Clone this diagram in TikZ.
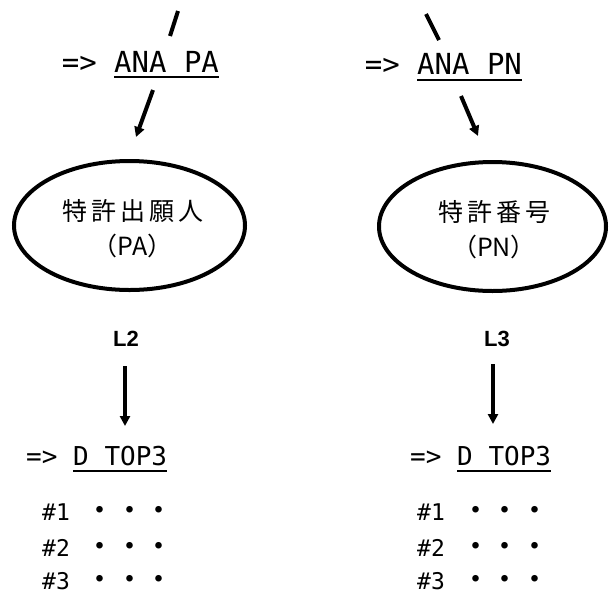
\documentclass[tikz,border=0pt]{standalone}
\usepackage{fontspec}
\usetikzlibrary{arrows.meta,shapes.geometric}
\newfontfamily\monofam{DejaVu Sans Mono}
\newfontfamily\jpfam{Noto Sans CJK JP}
\newfontfamily\lblfam{Liberation Sans}
% three spaced middle dots after a result number
\newcommand\threedots{{\jpfam\fontsize{31}{31}\selectfont\raisebox{-1.5pt}{%
  \makebox[29.5pt]{・}\makebox[29.5pt]{・}\makebox[29.5pt]{・}}}}
\begin{document}
\begin{tikzpicture}[x=1pt,y=-1pt,
  cmdbig/.style={inner sep=0pt, anchor=base west, font=\monofam\fontsize{29}{29}\selectfont},
  cmdmid/.style={inner sep=0pt, anchor=base west, font=\monofam\fontsize{26}{26}\selectfont},
  rowtext/.style={inner sep=0pt, anchor=base west, font=\monofam\fontsize{23}{23}\selectfont},
  uline/.style={line width=2.5pt},
  slash/.style={line width=4pt},
  diagarrow/.style={line width=4pt, -{Triangle[length=10pt,width=10pt]}},
  vertarrow/.style={line width=3.5pt, -{Triangle[length=10pt,width=10pt]}},
  oval/.style={draw, ellipse, line width=4pt, inner sep=0pt},
  ovaltext/.style={inner sep=0pt, align=center, font=\jpfam\fontsize{25}{35}\selectfont},
  setlabel/.style={inner sep=0pt, anchor=base, font=\lblfam\bfseries\fontsize{22}{22}\selectfont}]
\useasboundingbox (0,0) rectangle (610,592);

% ---------- left column: patent applicant ----------
\coordinate (ls1) at (178,11);
\coordinate (ls2) at (170,36);
\draw[slash] (ls1) -- (ls2);

\node[cmdbig] (anaPA) at (114,72) {ANA PA};
\node[cmdbig] (cmdPA) at (61.6,72) {=>};
\draw[uline] ([yshift=-5pt]anaPA.base west) -- ([yshift=-5pt]anaPA.base east);

\coordinate (la1) at (153,90);
\coordinate (la2) at (136,137);
\draw[diagarrow] (la1) -- (la2);

\node[oval, minimum width=231pt, minimum height=129pt] (ovalPA) at (129.5,225.5) {};
\node[ovaltext] (textPA) at (132.5,229)
  {特\kern4pt 許\kern4pt 出\kern4pt 願\kern4pt 人\\（PA）};

\node[setlabel] (L2) at (126,346) {L2};
\coordinate (lv1) at (125,366);
\coordinate (lv2) at (125,426);
\draw[vertarrow] (lv1) -- (lv2);

\node[cmdmid] (topL) at (73,465) {D TOP3};
\node[cmdmid] (cmdL) at (26,465) {=>};
\draw[uline] ([yshift=-6pt]topL.base west) -- ([yshift=-6pt]topL.base east);

\node[rowtext] (rL1) at (42,520) {\#1\hspace{15.5pt}\threedots};
\node[rowtext] (rL2) at (42,556) {\#2\hspace{15.5pt}\threedots};
\node[rowtext] (rL3) at (42,589) {\#3\hspace{15.5pt}\threedots};

% ---------- right column: patent number ----------
\coordinate (rs1) at (426,14);
\coordinate (rs2) at (439,40);
\draw[slash] (rs1) -- (rs2);

\node[cmdbig] (anaPN) at (417,74) {ANA PN};
\node[cmdbig] (cmdPN) at (364.6,74) {=>};
\draw[uline] ([yshift=-6pt]anaPN.base west) -- ([yshift=-6pt]anaPN.base east);

\coordinate (ra1) at (461,96);
\coordinate (ra2) at (478,136);
\draw[diagarrow] (ra1) -- (ra2);

\node[oval, minimum width=227pt, minimum height=129pt] (ovalPN) at (492.5,226.5) {};
\node[ovaltext] (textPN) at (494,229.5)
  {特\kern4pt 許\kern4pt 番\kern4pt 号\\（PN）};

\node[setlabel] (L3) at (497,346) {L3};
\coordinate (rv1) at (493,364);
\coordinate (rv2) at (493,424);
\draw[vertarrow] (rv1) -- (rv2);

\node[cmdmid] (topR) at (457,465) {D TOP3};
\node[cmdmid] (cmdR) at (410,465) {=>};
\draw[uline] ([yshift=-6pt]topR.base west) -- ([yshift=-6pt]topR.base east);

\node[rowtext] (rR1) at (417,520) {\#1\hspace{16pt}\threedots};
\node[rowtext] (rR2) at (417,556) {\#2\hspace{16pt}\threedots};
\node[rowtext] (rR3) at (417,589) {\#3\hspace{16pt}\threedots};
\end{tikzpicture}
\end{document}
